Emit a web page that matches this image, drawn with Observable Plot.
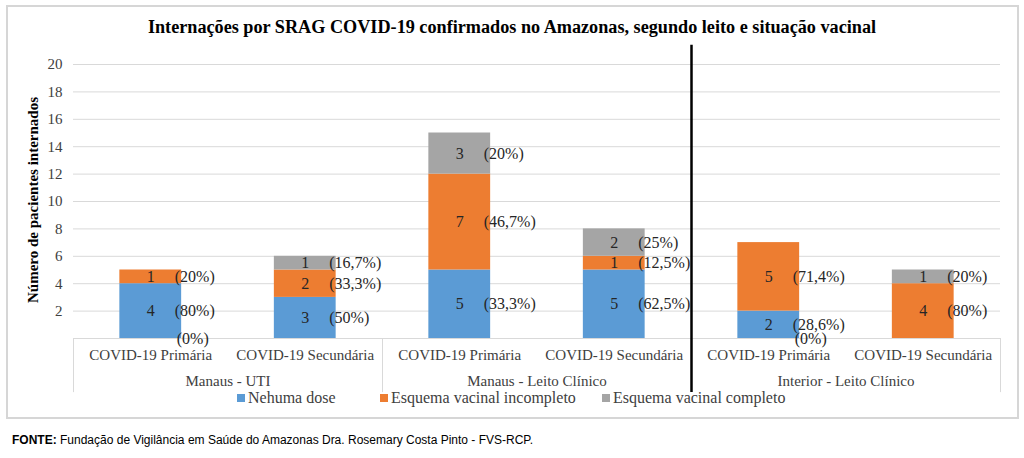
<!DOCTYPE html>
<html>
<head>
<meta charset="utf-8">
<script src="https://cdn.jsdelivr.net/npm/d3@7"></script>
<script src="https://cdn.jsdelivr.net/npm/@observablehq/plot@0.6"></script>
<style>
html,body{margin:0;padding:0;background:#fff;}
#wrap{position:relative;width:1024px;height:458px;overflow:hidden;font-family:"Liberation Serif","Times New Roman",serif;}
#frame{position:absolute;left:6px;top:5px;width:1009px;height:410px;border:2px solid #d6d6d6;}
#title{position:absolute;left:0;width:1024px;top:17px;text-align:center;font-weight:bold;font-size:18.2px;color:#000;white-space:nowrap;}
#ylabel{position:absolute;left:33px;top:200px;transform:translate(-50%,-50%) rotate(-90deg);white-space:nowrap;font-weight:bold;font-size:15px;color:#000;}
#chart{position:absolute;left:0;top:0;}
.leg{position:absolute;top:389px;font-family:"Liberation Serif","Times New Roman",serif;font-size:16px;color:#404040;white-space:nowrap;line-height:18px;}
.leg i{display:inline-block;width:8px;height:8px;margin-right:3px;vertical-align:1px;}
#footer{position:absolute;left:12px;top:433px;font-family:"Liberation Sans",Arial,sans-serif;font-size:12px;color:#000;white-space:nowrap;}
</style>
</head>
<body>
<div id="wrap">
  <div id="frame"></div>
  <div id="chart"></div>
  <div id="title">Internações por SRAG COVID-19 confirmados no Amazonas, segundo leito e situação vacinal</div>
  <div id="ylabel">Número de pacientes internados</div>
  <div id="legend"></div>
  <div id="footer"><b>FONTE:</b> Fundação de Vigilância em Saúde do Amazonas Dra. Rosemary Costa Pinto - FVS-RCP.</div>
</div>
<script>
// ---- data ----
const groups = ["Manaus - UTI", "Manaus - Leito Clínico", "Interior - Leito Clínico"];
const categories = ["COVID-19 Primária", "COVID-19 Secundária"];
const series = ["Nehuma dose", "Esquema vacinal incompleto", "Esquema vacinal completo"];
const colors = ["#5b9bd5", "#ed7d31", "#a5a5a5"];

// one value per bar, in order: group 1 (Primária, Secundária), group 2 (...), group 3 (...)
const nenhumaDose = [4, 3, 5, 5, 2, 0];
const esquemaIncompleto = [1, 2, 7, 1, 5, 4];
const esquemaCompleto = [0, 1, 3, 2, 0, 1];

const pctNenhumaDose = ["(80%)", "(50%)", "(33,3%)", "(62,5%)", "(28,6%)", ""];
const pctIncompleto = ["(20%)", "(33,3%)", "(46,7%)", "(12,5%)", "(71,4%)", "(80%)"];
const pctCompleto = ["(0%)", "(16,7%)", "(20%)", "(25%)", "(0%)", "(20%)"];

const yTicks = [2, 4, 6, 8, 10, 12, 14, 16, 18, 20];

// ---- build table ----
const valuesBySeries = [nenhumaDose, esquemaIncompleto, esquemaCompleto];
const pctBySeries = [pctNenhumaDose, pctIncompleto, pctCompleto];
const nSlots = groups.length * categories.length;
const rows = [];
for (let i = 0; i < nSlots; i++) {
  for (let s = 0; s < series.length; s++) {
    rows.push({slot: i, series: series[s], value: valuesBySeries[s][i], pct: pctBySeries[s][i]});
  }
}
const slotTicks = d3.range(nSlots).map(i => i + 0.5);
const groupRows = groups.map((g, i) => ({name: g, center: i * categories.length + categories.length / 2}));
const boundaries = d3.range(groups.length + 1).map(i => i * categories.length);
const blackDivider = [boundaries[2]];
const greyDividers = boundaries.filter(b => b !== boundaries[2]);
const barPad = 0.3;

const chart = Plot.plot({
  width: 1024,
  height: 458,
  marginLeft: 73,
  marginRight: 24,
  marginTop: 64,
  marginBottom: 120,
  style: {fontFamily: "'Liberation Serif','Times New Roman',serif", fontSize: "15px", color: "#404040", background: "transparent"},
  x: {type: "linear", domain: [0, nSlots], ticks: slotTicks, tickFormat: d => categories[Math.floor(d) % categories.length], tickSize: 0, tickPadding: 11, label: null},
  y: {domain: [0, 20], ticks: yTicks, tickSize: 0, tickPadding: 11, label: null},
  color: {domain: series, range: colors},
  marks: [
    Plot.ruleY(yTicks, {stroke: "#d9d9d9", strokeWidth: 1}),
    Plot.ruleY([0], {stroke: "#d9d9d9", strokeWidth: 1}),
    Plot.ruleX(greyDividers, {y1: 0, y2: -3.95, stroke: "#d9d9d9", strokeWidth: 1}),
    Plot.rectY(rows, Plot.stackY({
      x1: d => d.slot + barPad,
      x2: d => d.slot + 1 - barPad,
      y: "value",
      fill: "series",
      order: series
    })),
    Plot.ruleX(blackDivider, {y1: -3.95, y2: 21.4, stroke: "#000", strokeWidth: 2.5}),
    Plot.text(rows, Plot.stackY({
      filter: d => d.value > 0,
      x: d => d.slot + 0.5,
      y: "value",
      z: "series",
      order: series,
      text: d => String(d.value),
      fontSize: 16,
      fill: "#262626"
    })),
    Plot.text(rows, Plot.stackY({
      filter: d => d.value > 0,
      x: d => d.slot + 0.5,
      y: "value",
      z: "series",
      order: series,
      text: "pct",
      textAnchor: "start",
      dx: 24,
      fontSize: 16,
      fill: "#262626"
    })),
    Plot.text(rows.filter(d => d.value === 0 && d.pct), {
      x: d => d.slot + 0.5,
      y: "value",
      text: "pct",
      textAnchor: "start",
      dx: 26,
      fontSize: 16,
      fill: "#262626"
    }),
    Plot.text(groupRows, {
      x: "center",
      frameAnchor: "bottom",
      dy: 47,
      text: "name",
      fontSize: 15,
      fill: "#404040"
    })
  ]
});
document.getElementById("chart").appendChild(chart);

// legend
const legendLeft = [237, 380, 602];
const legend = document.getElementById("legend");
series.forEach((s, i) => {
  const el = document.createElement("div");
  el.className = "leg";
  el.style.left = legendLeft[i] + "px";
  el.innerHTML = `<i style="background:${colors[i]}"></i>${s}`;
  legend.appendChild(el);
});
</script>
</body>
</html>
